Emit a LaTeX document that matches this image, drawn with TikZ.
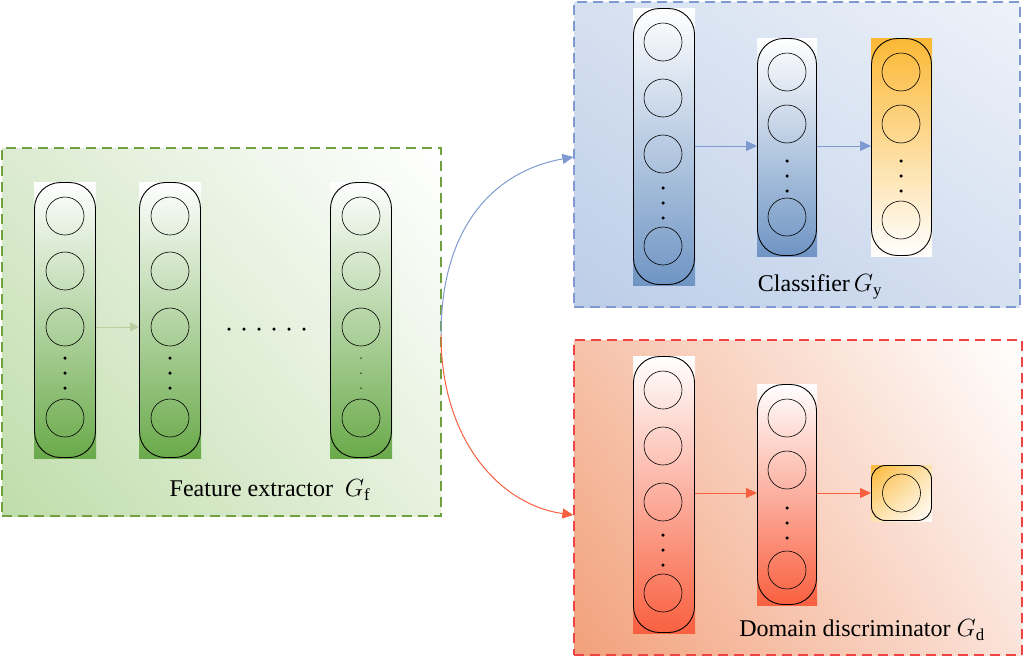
\documentclass[tikz,border=0pt]{standalone}
\usepackage{fontspec}
\setmainfont{Liberation Serif}
\usetikzlibrary{arrows.meta,shadings}
\begin{document}
\begin{tikzpicture}[x=1pt,y=-1pt,
  neuron/.style={circle,draw,minimum size=38pt,inner sep=0pt,line width=0.6pt},
  colout/.style={draw,rounded corners=26pt,line width=0.9pt,inner sep=0pt},
  dot/.style={circle,fill=black,inner sep=0pt,minimum size=3.5pt},
  lbl/.style={font=\fontsize{24}{28}\selectfont},
  box/.style={line width=1.2pt,dash pattern=on 10pt off 6pt}]
\useasboundingbox (0,0) rectangle (1025,659);
\definecolor{gll}{HTML}{BFDDAA}\definecolor{glr}{HTML}{E6F1DE}\definecolor{gul}{HTML}{DCEBD2}
\definecolor{bll}{HTML}{BCCDE8}\definecolor{bur}{HTML}{EEF2F9}\definecolor{bmid}{HTML}{D5E0F0}
\definecolor{rll}{HTML}{F2A07A}\definecolor{rlr}{HTML}{FBE3DA}\definecolor{rul}{HTML}{F6C2AA}
\definecolor{gbd}{HTML}{70A040}\definecolor{bbd}{HTML}{7F9AD0}\definecolor{rbd}{HTML}{EE4444}
% boxes
\shade[lower left=gll, upper right=white, lower right=glr, upper left=gul] (2,148) rectangle (441,516);
\node[box,draw=gbd,minimum width=439pt,minimum height=368pt,inner sep=0pt] (fe) at (221.5,332) {};
\shade[lower left=bll, upper right=bur, lower right=bmid, upper left=bmid] (574,2) rectangle (1020,307);
\node[box,draw=bbd,minimum width=446pt,minimum height=305pt,inner sep=0pt] (cl) at (797,154.5) {};
\shade[lower left=rll, upper right=white, lower right=rlr, upper left=rul] (574,340) rectangle (1022,655);
\node[box,draw=rbd,minimum width=448pt,minimum height=315pt,inner sep=0pt] (dd) at (798,497.5) {};
% column macro: name, x1,x2,y1,y2,top,bottom
\newcommand{\mycol}[7]{%
  \shade[top color=#6,bottom color=#7] (#2,#4) rectangle (#3,#5);
  \node[colout,minimum width=#3pt-#2pt-1pt,minimum height=#5pt-#4pt-1pt] (#1) at ({(#2+#3)/2},{(#4+#5)/2}) {};}
\definecolor{fg}{HTML}{6AAA4A}
\definecolor{bl}{HTML}{6F95C4}
\definecolor{og}{HTML}{FBB835}
\definecolor{rd}{HTML}{F96040}
\mycol{f1}{34}{96}{182}{458}{white}{fg}
\mycol{f2}{139}{201}{182}{458}{white}{fg}
\mycol{f3}{330}{392}{182}{458}{white}{fg}
\foreach \c/\x in {f1/65,f2/170,f3/361}{
  \foreach \y [count=\i] in {216,271,327,418} \node[neuron] (\c n\i) at (\x,\y) {};
}
\foreach \y in {358,373,388} {\node[dot] at (65,\y) {}; \node[dot] at (170,\y) {}; \node[dot,minimum size=1.5pt] at (361,\y) {};}
\foreach \x in {229,244,259,274,289,304} \node[dot] at (\x,329) {};
\draw[-{Triangle[length=9pt,width=9pt]},gbd!50!white,line width=1pt] (f1.east|-f1n3) -- (f2.west|-f1n3);
\node[lbl] (fel) at (270,490) {Feature extractor\ \ $G_{\mathrm{f}}$};
% classifier
\mycol{c1}{633}{695}{8}{285}{white}{bl}
\mycol{c2}{757}{817}{38}{256}{white}{bl}
\mycol{c3}{871}{932}{38}{256}{og}{white}
\foreach \y [count=\i] in {42,98,154,246} \node[neuron] (c1n\i) at (663,\y) {};
\foreach \y [count=\i] in {72,124,217} \node[neuron] (c2n\i) at (787,\y) {};
\foreach \y [count=\i] in {72,124,220} \node[neuron] (c3n\i) at (901,\y) {};
\foreach \y in {188,203,218} \node[dot] at (663,\y) {};
\foreach \y in {161,176,191} {\node[dot] at (787,\y) {}; \node[dot] at (901,\y) {};}
\coordinate (ca) at (695,146);
\draw[-{Triangle[length=11pt,width=10pt]},bbd,line width=1pt] (c1.east|-ca) -- (c2.west|-ca);
\draw[-{Triangle[length=11pt,width=10pt]},bbd,line width=1pt] (c2.east|-ca) -- (c3.west|-ca);
\node[lbl] (cll) at (820,287) {Classifier\,$G_{\mathrm{y}}$};
% domain
\mycol{d1}{633}{695}{356}{633}{white}{rd}
\mycol{d2}{757}{817}{384}{605}{white}{rd}
\foreach \y [count=\i] in {390,446,502,593} \node[neuron] (d1n\i) at (663,\y) {};
\foreach \y [count=\i] in {418,470,570} \node[neuron] (d2n\i) at (787,\y) {};
\foreach \y in {535,550,565} \node[dot] at (663,\y) {};
\foreach \y in {508,523,538} \node[dot] at (787,\y) {};
\shade[upper left=og,lower right=white,upper right=og!40!white,lower left=og!40!white] (871,465) rectangle (932,521);
\node[colout,rounded corners=14pt,minimum width=60pt,minimum height=55pt] (d3) at (901.5,493) {};
\node[neuron] (d3n1) at (901.5,493) {};
\coordinate (da) at (695,493);
\draw[-{Triangle[length=11pt,width=10pt]},rd,line width=1pt] (d1.east|-da) -- (d2.west|-da);
\draw[-{Triangle[length=11pt,width=10pt]},rd,line width=1pt] (d2.east|-da) -- (d3.west|-da);
\node[lbl] (ddl) at (862,630) {Domain discriminator $G_{\mathrm{d}}$};
% connectors
\coordinate (fo) at (441,335);
\draw[-{Triangle[length=11pt,width=10pt]},bbd,line width=1pt] (fo) .. controls (441,220) and (500,170) .. (cl.west|-0,157);
\draw[-{Triangle[length=11pt,width=10pt]},rd,line width=1pt] (fo) .. controls (441,440) and (500,505) .. (dd.west|-0,515);
\end{tikzpicture}
\end{document}
